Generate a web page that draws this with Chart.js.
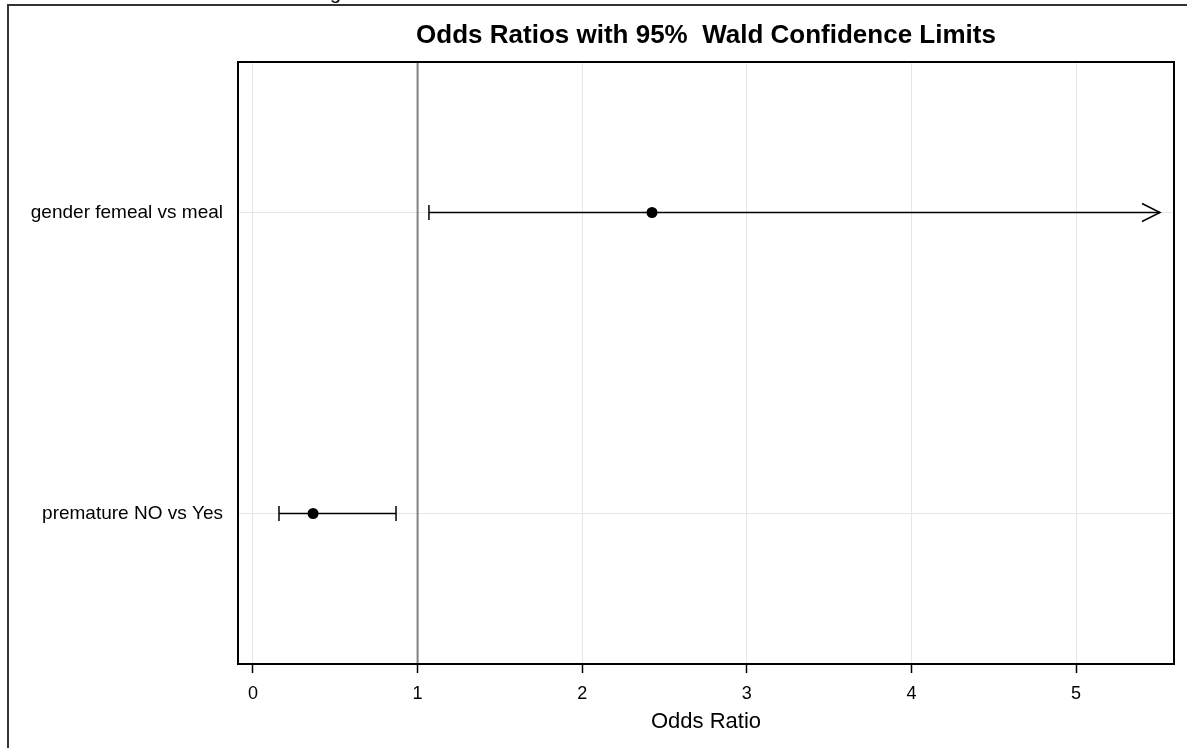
<!DOCTYPE html>
<html><head><meta charset="utf-8">
<script src="https://cdn.jsdelivr.net/npm/chart.js@4/dist/chart.umd.min.js"></script>
<style>html,body{margin:0;padding:0;background:#fff;}#wrap{width:1187px;height:748px;position:relative}</style>
</head><body><div id="wrap"><canvas id="c"></canvas></div>
<script>
// ---- data ----
const effects = ['gender femeal vs meal', 'premature NO vs Yes'];
const oddsRatio = [2.424, 0.365];
const lowerCL = [1.069, 0.158];
const upperCL = [5.51, 0.869];
const upperClipped = [true, false];
const xTicks = [0, 1, 2, 3, 4, 5];
const xMin = -0.091, xMax = 5.595;
const refValue = 1;
const titleText = 'Odds Ratios with 95%  Wald Confidence Limits';
const xTitle = 'Odds Ratio';

const FONT = "'Liberation Sans', Arial, sans-serif";

const forestPlugin = {
  id: 'forest',
  beforeDatasetsDraw(chart) {
    const {ctx, chartArea: a, scales: {x, y}} = chart;
    ctx.save();
    // reference line
    const rx = x.getPixelForValue(refValue);
    ctx.strokeStyle = '#808080';
    ctx.lineWidth = 2;
    ctx.beginPath(); ctx.moveTo(rx, a.top); ctx.lineTo(rx, a.bottom); ctx.stroke();
    // error bars
    ctx.strokeStyle = '#000';
    ctx.lineWidth = 1.5;
    effects.forEach((lab, i) => {
      const py = y.getPixelForValue(i);
      const xl = x.getPixelForValue(lowerCL[i]);
      const xu = x.getPixelForValue(upperCL[i]);
      ctx.beginPath(); ctx.moveTo(xl, py); ctx.lineTo(xu, py); ctx.stroke();
      ctx.beginPath(); ctx.moveTo(xl, py - 7.5); ctx.lineTo(xl, py + 7.5); ctx.stroke();
      if (upperClipped[i]) {
        ctx.beginPath();
        ctx.moveTo(xu - 18, py - 9); ctx.lineTo(xu, py); ctx.lineTo(xu - 18, py + 9);
        ctx.stroke();
      } else {
        ctx.beginPath(); ctx.moveTo(xu, py - 7.5); ctx.lineTo(xu, py + 7.5); ctx.stroke();
      }
    });
    ctx.restore();
  },
  afterDraw(chart) {
    const {ctx, chartArea: a} = chart;
    ctx.save();
    ctx.strokeStyle = '#000';
    ctx.lineWidth = 2;
    ctx.strokeRect(a.left, a.top, a.right - a.left, a.bottom - a.top);
    // outer frame
    ctx.strokeStyle = '#333';
    ctx.lineWidth = 2;
    ctx.beginPath();
    ctx.moveTo(8, chart.height + 2); ctx.lineTo(8, 5); ctx.lineTo(chart.width + 2, 5);
    ctx.stroke();
    // cut-off text above the frame
    ctx.fillStyle = '#000';
    ctx.font = '20px ' + FONT;
    ctx.textBaseline = 'alphabetic';
    ctx.fillText('g', 330, -1);
    ctx.restore();
  }
};

new Chart(document.getElementById('c'), {
  type: 'scatter',
  data: {
    labels: effects,
    datasets: [{
      data: effects.map((e, i) => ({x: oddsRatio[i], y: e})),
      pointRadius: 5.5,
      pointHoverRadius: 5.5,
      pointBackgroundColor: '#000',
      pointBorderColor: '#000',
      pointBorderWidth: 0
    }]
  },
  options: {
    responsive: true,
    maintainAspectRatio: false,
    animation: false,
    layout: {padding: {left: 0, right: 13, top: 0, bottom: 0}},
    plugins: {
      legend: {display: false},
      tooltip: {enabled: false},
      title: {
        display: true, text: titleText, fullSize: false,
        color: '#000', font: {family: FONT, size: 26, weight: 'bold'},
        padding: {top: 20, bottom: 10.8}
      }
    },
    scales: {
      x: {
        type: 'linear', min: xMin, max: xMax,
        afterBuildTicks: s => { s.ticks = xTicks.map(v => ({value: v})); },
        afterFit: s => { s.height = 84; },
        border: {display: false},
        grid: {color: '#e6e6e6', lineWidth: 1, tickColor: '#000', tickLength: 9, tickWidth: 1.5},
        ticks: {color: '#000', font: {family: FONT, size: 18}, padding: 10, maxRotation: 0},
        title: {display: true, text: xTitle, color: '#000', font: {family: FONT, size: 22}, padding: {top: 4, bottom: 13}}
      },
      y: {
        type: 'category', labels: effects, offset: true,
        afterFit: s => { s.width = 238; },
        border: {display: false},
        grid: {color: '#e6e6e6', lineWidth: 1, offset: false, drawTicks: false, tickLength: 0},
        ticks: {color: '#000', font: {family: FONT, size: 19}, padding: 15}
      }
    }
  },
  plugins: [forestPlugin]
});
</script>
</body></html>
